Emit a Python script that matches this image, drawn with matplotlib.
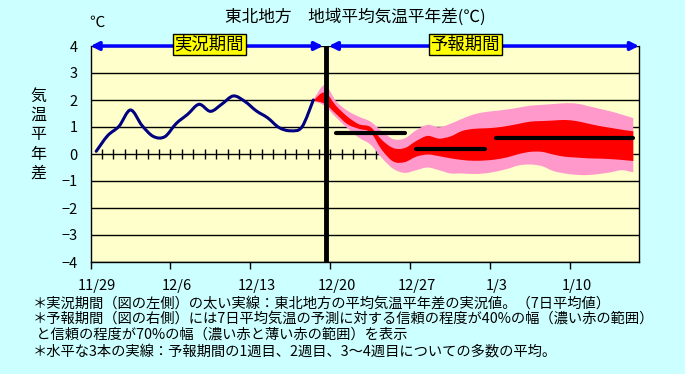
import matplotlib
matplotlib.use("Agg")
import matplotlib.pyplot as plt
import matplotlib.transforms as mtransforms
from matplotlib.path import Path
from matplotlib.patches import PathPatch

plt.rcParams['font.family'] = ['Noto Sans CJK JP', 'DejaVu Sans']

# x軸: 11/29 からの日数
tick_days = [0, 7, 14, 21, 28, 35, 42]
tick_labels = ["11/29", "12/6", "12/13", "12/20", "12/27", "1/3", "1/10"]
n_days = 48
split_day = 20.6  # 実況/予報の境目

# 実況値 (7日平均) 11/29 ~ 12/18
obs_days = list(range(0, 20))
obs_vals = [0.10, 0.68, 1.03, 1.63, 1.06, 0.65, 0.64, 1.13, 1.47, 1.84,
            1.58, 1.85, 2.15, 1.95, 1.60, 1.34, 0.98, 0.86, 1.00, 2.00]

# 予報 12/18 ~ 1/15
fc_days = list(range(19, 48))
p_hi = [2.00, 2.55, 1.95, 1.60, 1.38, 1.20, 0.85, 0.55, 0.58, 0.88,
        1.08, 0.99, 1.12, 1.30, 1.46, 1.55, 1.60, 1.65, 1.72, 1.79,
        1.82, 1.85, 1.88, 1.87, 1.78, 1.68, 1.58, 1.46, 1.33]
r_hi = [1.98, 2.28, 1.78, 1.38, 1.10, 1.00, 0.52, 0.22, 0.22, 0.48,
        0.67, 0.57, 0.65, 0.85, 0.93, 0.95, 0.98, 1.04, 1.12, 1.20,
        1.22, 1.24, 1.26, 1.22, 1.13, 1.04, 0.97, 0.90, 0.84]
r_lo = [1.97, 1.86, 1.48, 1.10, 0.93, 0.80, 0.15, -0.28, -0.30, -0.10,
        -0.02, -0.08, -0.16, -0.22, -0.25, -0.24, -0.20, -0.12, 0.00, 0.08,
        0.08, -0.02, -0.10, -0.13, -0.16, -0.17, -0.19, -0.22, -0.26]
p_lo = [1.97, 1.78, 1.35, 0.95, 0.60, 0.35, -0.15, -0.55, -0.70, -0.60,
        -0.50, -0.60, -0.72, -0.72, -0.74, -0.72, -0.65, -0.55, -0.42, -0.39,
        -0.45, -0.63, -0.72, -0.77, -0.78, -0.74, -0.68, -0.60, -0.68]

# 1週目、2週目、3~4週目の平均
week_start = [21, 28, 35]
week_end = [27, 34, 47]
week_mean = [0.79, 0.19, 0.60]

notes = [
    "＊実況期間（図の左側）の太い実線：東北地方の平均気温平年差の実況値。（7日平均値）",
    "＊予報期間（図の右側）には7日平均気温の予測に対する信頼の程度が40%の幅（濃い赤の範囲）",
    " と信頼の程度が70%の幅（濃い赤と薄い赤の範囲）を表示",
    "＊水平な3本の実線：予報期間の1週目、2週目、3～4週目についての多数の平均。",
]


def smooth_segments(xs, ys):
    # Excelの「スムージング」のようにベジェ曲線で点を結ぶ
    pts = list(zip(xs, ys))
    verts, codes = [], []
    for i in range(len(pts) - 1):
        p0 = pts[max(i - 1, 0)]
        p1 = pts[i]
        p2 = pts[i + 1]
        p3 = pts[min(i + 2, len(pts) - 1)]
        c1 = (p1[0] + (p2[0] - p0[0]) / 6, p1[1] + (p2[1] - p0[1]) / 6)
        c2 = (p2[0] - (p3[0] - p1[0]) / 6, p2[1] - (p3[1] - p1[1]) / 6)
        verts += [c1, c2, p2]
        codes += [Path.CURVE4] * 3
    return pts[0], verts, codes


def smooth_line(xs, ys):
    start, v, c = smooth_segments(xs, ys)
    return Path([start] + v, [Path.MOVETO] + c)


def smooth_band(xs, lo, hi):
    s1, v1, c1 = smooth_segments(xs, hi)
    s2, v2, c2 = smooth_segments(xs[::-1], lo[::-1])
    verts = [s1] + v1 + [s2] + v2 + [s1]
    codes = [Path.MOVETO] + c1 + [Path.LINETO] + c2 + [Path.CLOSEPOLY]
    return Path(verts, codes)


W, H = 685, 374
fig = plt.figure(figsize=(W / 100, H / 100), dpi=100, facecolor="#CCFFFF")
ax = fig.add_axes([90.5 / W, 1 - 262 / H, (639 - 90.5) / W, (262 - 46) / H])
ax.set_facecolor("#FFFFCC")
ax.set_xlim(0, n_days)
ax.set_ylim(-4, 4)
ax.set_axisbelow(True)

ax.set_yticks(range(-4, 5))
ax.yaxis.grid(True, color="black", lw=1)
ax.tick_params(axis="y", length=0, pad=9, labelsize=10.5)
ax.set_xticks(tick_days)
ax.set_xticklabels(tick_labels)
ax.tick_params(axis="x", length=5, width=1, pad=7, labelsize=10.5, direction="out")
offset = mtransforms.ScaledTranslation(6 / 100, 0, fig.dpi_scale_trans)
for lab in ax.get_xticklabels():
    lab.set_transform(lab.get_transform() + offset)
for s in ["left", "right", "bottom"]:
    ax.spines[s].set_color("black")
    ax.spines[s].set_linewidth(1)
ax.spines["top"].set_visible(False)

# 0線上の日ごとの目盛り
ax.plot(range(1, 26), [0] * 25, ls="none", marker="|", ms=7, mew=1, color="black")

# 予報の幅
fc_x = [d + 0.5 for d in fc_days]
ax.add_patch(PathPatch(smooth_band(fc_x, p_lo, p_hi), fc="#FF99CC", lw=0, zorder=2))
ax.add_patch(PathPatch(smooth_band(fc_x, r_lo, r_hi), fc="#FF0000", lw=0, zorder=3))

# 実況
obs_x = [d + 0.5 for d in obs_days]
ax.add_patch(PathPatch(smooth_line(obs_x, obs_vals), fc="none", ec="#000080", lw=2.2,
                       capstyle="round", joinstyle="round", zorder=4))

# 週平均
for s, e, m in zip(week_start, week_end, week_mean):
    ax.plot([s + 0.5, e + 0.5], [m, m], color="black", lw=3, solid_capstyle="round", zorder=5)

ax.axvline(split_day, color="black", lw=3.5, zorder=6)

# 期間の矢印
arrow = dict(arrowstyle="<|-|>", color="#0000FF", lw=2.5, mutation_scale=12, shrinkA=0, shrinkB=0)
ax.annotate("", xy=(0, 4), xytext=(split_day - 0.25, 4), arrowprops=arrow, annotation_clip=False, zorder=7)
ax.annotate("", xy=(split_day + 0.25, 4), xytext=(n_days, 4), arrowprops=arrow, annotation_clip=False, zorder=7)
box = dict(boxstyle="square,pad=0.1", fc="#FFFF00", ec="black", lw=1)
ax.text(10.4, 4.05, "実況期間", ha="center", va="center", fontsize=12.5, bbox=box, zorder=8)
ax.text(32.8, 4.05, "予報期間", ha="center", va="center", fontsize=12.5, bbox=box, zorder=8)

fig.text(355 / W, 1 - 17 / H, "東北地方　地域平均気温平年差(℃)", ha="center", va="center", fontsize=12)
fig.text(97 / W, 1 - 22 / H, "℃", ha="center", va="center", fontsize=11)
fig.text(38 / W, 1 - 135 / H, "気\n温\n平\n年\n差", ha="center", va="center", fontsize=11.5, linespacing=1.17)

for y, t in zip([304, 319, 335, 352], notes):
    fig.text(33 / W, 1 - y / H, t, ha="left", va="center", fontsize=10.3)

fig.savefig("out.png", dpi=100, facecolor=fig.get_facecolor())
